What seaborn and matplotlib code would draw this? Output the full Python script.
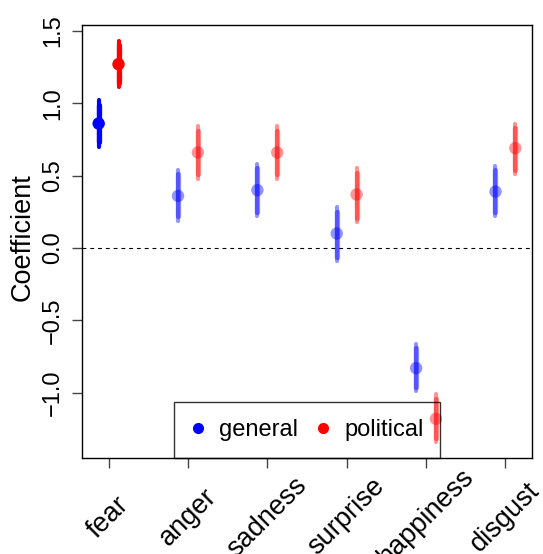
import numpy as np
import pandas as pd
import seaborn as sns
import matplotlib.pyplot as plt
from matplotlib.lines import Line2D
from matplotlib.transforms import ScaledTranslation

emotions = ["fear", "anger", "sadness", "surprise", "happiness", "disgust"]

# general news coefficients
gen_est = [0.86, 0.36, 0.40, 0.10, -0.83, 0.39]
gen_lo = [0.70, 0.19, 0.22, -0.09, -0.99, 0.22]
gen_hi = [1.02, 0.54, 0.58, 0.28, -0.66, 0.57]
gen_lo_in = [0.73, 0.22, 0.25, -0.06, -0.96, 0.25]
gen_hi_in = [0.99, 0.51, 0.55, 0.25, -0.69, 0.54]

# political news coefficients
pol_est = [1.27, 0.66, 0.66, 0.37, -1.18, 0.69]
pol_lo = [1.11, 0.48, 0.48, 0.18, -1.34, 0.51]
pol_hi = [1.43, 0.84, 0.84, 0.55, -1.01, 0.86]
pol_lo_in = [1.14, 0.51, 0.51, 0.21, -1.31, 0.54]
pol_hi_in = [1.40, 0.81, 0.81, 0.52, -1.04, 0.83]

yticks = [-1.0, -0.5, 0.0, 0.5, 1.0, 1.5]

sns.set_style("white")
plt.rcParams['font.family'] = ['Liberation Sans', 'DejaVu Sans']
plt.rcParams['text.color'] = 'black'
plt.rcParams['axes.labelcolor'] = 'black'
plt.rcParams['xtick.color'] = 'black'
plt.rcParams['ytick.color'] = 'black'

pos = np.arange(1, len(emotions) + 1)
rows = []
for i, e in enumerate(emotions):
    rows.append(dict(emotion=e, group="general", x=pos[i] - 0.125, est=gen_est[i],
                     lo=gen_lo[i], hi=gen_hi[i], lo_in=gen_lo_in[i], hi_in=gen_hi_in[i]))
    rows.append(dict(emotion=e, group="political", x=pos[i] + 0.125, est=pol_est[i],
                     lo=pol_lo[i], hi=pol_hi[i], lo_in=pol_lo_in[i], hi_in=pol_hi_in[i]))
df = pd.DataFrame(rows)
palette = {"general": "#0000FF", "political": "#FF0000"}

fig = plt.figure(figsize=(5.43, 5.54), dpi=100)
ax = fig.add_axes([82 / 543, 1 - 458 / 554, 450 / 543, 433 / 554])

ax.axhline(0, color="black", lw=0.8, ls=(0, (3.5, 3.5)), zorder=1)

for _, r in df.iterrows():
    a = 1.0 if r["emotion"] == "fear" else 0.42
    c = palette[r["group"]]
    ax.plot([r["x"], r["x"]], [r["lo"], r["hi"]], color=c, alpha=a, lw=3.0,
            solid_capstyle="round", zorder=2)
    ax.plot([r["x"], r["x"]], [r["lo_in"], r["hi_in"]], color=c, alpha=a, lw=3.8,
            solid_capstyle="round", zorder=2)

sns.scatterplot(data=df[df.emotion == "fear"], x="x", y="est", hue="group",
                palette=palette, s=80, linewidth=0, alpha=1.0, legend=False, ax=ax, zorder=3)
sns.scatterplot(data=df[df.emotion != "fear"], x="x", y="est", hue="group",
                palette=palette, s=80, linewidth=0, alpha=0.42, legend=False, ax=ax, zorder=3)

xlo, xhi = df.x.min(), df.x.max()
ylo, yhi = df.lo.min(), df.hi.max()
ax.set_xlim(xlo - 0.04 * (xhi - xlo), xhi + 0.04 * (xhi - xlo))
ax.set_ylim(ylo - 0.04 * (yhi - ylo), yhi + 0.04 * (yhi - ylo))

ax.set_yticks(yticks)
ax.set_yticklabels([f"{v:.1f}".replace("-", "\u2212") for v in yticks],
                   rotation=90, va="center", fontsize=17)
ax.set_xticks(pos)
ax.set_xticklabels([])
ax.tick_params(axis="both", direction="out", length=7, width=1, color="#444444",
               left=True, bottom=True, pad=6)
ax.set_xlabel("")
ax.set_ylabel("Coefficient", fontsize=19.5)
ax.yaxis.set_label_coords(-0.104, 0.51)

for s in ax.spines.values():
    s.set_color("black")
    s.set_linewidth(1.0)

# rotated category labels, centred under each tick
trans = ax.get_xaxis_transform() + ScaledTranslation(0, -59 / 100, fig.dpi_scale_trans)
for i, e in enumerate(emotions):
    ax.text(pos[i], 0, e, transform=trans, rotation=45, ha="center", va="center",
            rotation_mode="anchor", fontsize=19.5, clip_on=False)

handles = [Line2D([], [], ls="", marker="o", markersize=7, color=palette[g]) for g in palette]
leg = ax.legend(handles, list(palette), loc="lower center", ncol=2, fontsize=17,
                frameon=True, fancybox=False, borderaxespad=0, handlelength=0.6,
                handletextpad=0.6, columnspacing=0.75, borderpad=0.72)
leg.get_frame().set_facecolor("none")
leg.get_frame().set_edgecolor("black")
leg.get_frame().set_linewidth(1.0)

fig.savefig("out.png", dpi=100)
